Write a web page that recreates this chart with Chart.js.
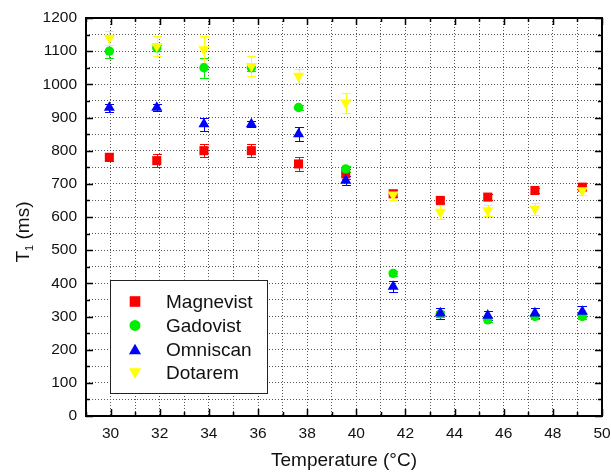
<!DOCTYPE html>
<html>
<head>
<meta charset="utf-8">
<script src="https://cdn.jsdelivr.net/npm/chart.js@4.4.1/dist/chart.umd.min.js"></script>
<style>
html,body{margin:0;padding:0;background:#fff;}
canvas{display:block;}
</style>
</head>
<body>
<canvas id="c" width="611" height="472"></canvas>
<script>
// ---- data ----
const temperatures = [29.95, 31.88, 33.8, 35.73, 37.65, 39.57, 41.5, 43.42, 45.35, 47.27, 49.2];

const magnevistT1  = [780, 770, 800, 800, 760, 730, 670, 650, 660, 680, 690];
const magnevistErr = [10, 20, 20, 20, 20, 15, 10, 8, 8, 8, 8];

const gadovistT1   = [1100, 1110, 1050, 1050, 930, 745, 430, 308, 290, 300, 300];
const gadovistErr  = [20, 10, 30, 10, 8, 8, 8, 8, 8, 8, 8];

const omniscanT1   = [930, 930, 880, 880, 850, 710, 390, 310, 303, 310, 315];
const omniscanErr  = [12, 10, 20, 10, 20, 15, 17, 17, 15, 15, 17];

const dotaremT1    = [1140, 1115, 1105, 1055, 1025, 945, 667, 615, 620, 625, 680];
const dotaremErr   = [20, 30, 40, 30, 20, 30, 17, 20, 17, 18, 15];

const seriesNames  = ['Magnevist', 'Gadovist', 'Omniscan', 'Dotarem'];
const xTickLabels  = [30, 32, 34, 36, 38, 40, 42, 44, 46, 48, 50];
const yTickLabels  = [0, 100, 200, 300, 400, 500, 600, 700, 800, 900, 1000, 1100, 1200];

const xTitle = 'Temperature (°C)';
const yTitleMain = 'T';
const yTitleSub = '1';
const yTitleUnit = ' (ms)';

// ---- styling ----
const FONT = '"Liberation Sans", Arial, Helvetica, sans-serif';
const colors = ['#ff0000', '#00ee00', '#0000ff', '#ffff00'];
const styles = ['rect', 'circle', 'triangle', 'triangle'];
const rotations = [0, 0, 0, 180];
const radii = [6.4, 4.7, 6.4, 6.4];

function toPoints(vals) { return temperatures.map((t, i) => ({x: t, y: vals[i]})); }

const allVals = [magnevistT1, gadovistT1, omniscanT1, dotaremT1];
const allErrs = [magnevistErr, gadovistErr, omniscanErr, dotaremErr];

const datasets = seriesNames.map((name, i) => ({
  label: name,
  data: toPoints(allVals[i]),
  errors: allErrs[i],
  showLine: false,
  pointStyle: styles[i],
  rotation: rotations[i],
  pointRadius: radii[i],
  pointHoverRadius: radii[i],
  pointBorderWidth: 0,
  backgroundColor: colors[i],
  borderColor: colors[i],
  order: seriesNames.length - i
}));

// error bars drawn through the scales
const errorBars = {
  id: 'errorBars',
  beforeDatasetsDraw(chart) {
    const {ctx, scales: {x, y}} = chart;
    chart.data.datasets.forEach((ds) => {
      ctx.save();
      ctx.strokeStyle = ds.borderColor;
      ctx.lineWidth = 1;
      ds.data.forEach((pt, j) => {
        const e = ds.errors[j];
        const px = Math.round(x.getPixelForValue(pt.x)) + 0.5;
        const top = Math.round(y.getPixelForValue(pt.y + e)) + 0.5;
        const bot = Math.round(y.getPixelForValue(pt.y - e)) + 0.5;
        ctx.beginPath();
        ctx.moveTo(px, top); ctx.lineTo(px, bot);
        ctx.moveTo(px - 4.5, top); ctx.lineTo(px + 4.5, top);
        ctx.moveTo(px - 4.5, bot); ctx.lineTo(px + 4.5, bot);
        ctx.stroke();
      });
      ctx.restore();
    });
  }
};

function drawMarker(ctx, style, rot, r, x, y, color) {
  ctx.save();
  ctx.fillStyle = color;
  ctx.beginPath();
  if (style === 'rect') {
    const s = r * Math.SQRT1_2;
    ctx.rect(x - s, y - s, 2 * s, 2 * s);
  } else if (style === 'circle') {
    ctx.arc(x, y, r, 0, Math.PI * 2);
  } else {
    let a = rot * Math.PI / 180;
    ctx.moveTo(x + Math.sin(a) * r, y - Math.cos(a) * r);
    a += 2 * Math.PI / 3;
    ctx.lineTo(x + Math.sin(a) * r, y - Math.cos(a) * r);
    a += 2 * Math.PI / 3;
    ctx.lineTo(x + Math.sin(a) * r, y - Math.cos(a) * r);
    ctx.closePath();
  }
  ctx.fill();
  ctx.restore();
}

// frame, inward ticks, y title and legend
const decorations = {
  id: 'decorations',
  afterDraw(chart) {
    const {ctx, chartArea: ca, scales: {x, y}} = chart;
    ctx.save();
    // ticks
    ctx.strokeStyle = '#000';
    ctx.lineWidth = 1.5;
    ctx.beginPath();
    for (let v = x.min; v <= x.max; v += 1) {
      const px = Math.round(x.getPixelForValue(v)) + 0.5;
      const len = (v % 2 === 0) ? 7 : 4;
      ctx.moveTo(px, ca.bottom); ctx.lineTo(px, ca.bottom - len);
      ctx.moveTo(px, ca.top); ctx.lineTo(px, ca.top + len);
    }
    for (let v = y.min; v <= y.max; v += 50) {
      const py = Math.round(y.getPixelForValue(v)) + 0.5;
      const len = (v % 100 === 0) ? 7 : 4;
      ctx.moveTo(ca.left, py); ctx.lineTo(ca.left + len, py);
      ctx.moveTo(ca.right, py); ctx.lineTo(ca.right - len, py);
    }
    ctx.stroke();
    // frame
    ctx.lineWidth = 2;
    ctx.strokeRect(ca.left, ca.top, ca.right - ca.left, ca.bottom - ca.top);

    // y title with subscript
    ctx.fillStyle = '#111';
    ctx.textBaseline = 'alphabetic';
    ctx.translate(28.5, (ca.top + ca.bottom) / 2 + 15);
    ctx.rotate(-Math.PI / 2);
    ctx.font = '19px ' + FONT;
    const wT = ctx.measureText(yTitleMain).width;
    const wU = ctx.measureText(yTitleUnit).width;
    ctx.font = '11px ' + FONT;
    const wS = ctx.measureText(yTitleSub).width;
    let sx = -(wT + wS + wU) / 2;
    ctx.font = '19px ' + FONT;
    ctx.fillText(yTitleMain, sx, 0); sx += wT;
    ctx.font = '11px ' + FONT;
    ctx.fillText(yTitleSub, sx, 4.5); sx += wS;
    ctx.font = '19px ' + FONT;
    ctx.fillText(yTitleUnit, sx, 0);
    ctx.restore();

    // legend
    ctx.save();
    const lx = ca.left + 24, ly = ca.top + 261.5, lw = 157, lh = 113;
    ctx.fillStyle = '#fff';
    ctx.fillRect(lx, ly, lw, lh);
    ctx.strokeStyle = '#222';
    ctx.lineWidth = 1;
    ctx.strokeRect(Math.round(lx) + 0.5, Math.round(ly) + 0.5, lw, lh);
    ctx.font = '19px ' + FONT;
    ctx.textBaseline = 'middle';
    ctx.textAlign = 'left';
    const legendR = [7.5, 5.5, 7, 7];
    chart.data.datasets.forEach((ds, i) => {
      const ry = ly + 22 + i * 23.9;
      drawMarker(ctx, styles[i], rotations[i], legendR[i], lx + 25, ry + (styles[i] === 'triangle' ? (rotations[i] ? -1.5 : 1.5) : 0), colors[i]);
      ctx.fillStyle = '#111';
      ctx.fillText(ds.label, lx + 56, ry + 1);
    });
    ctx.restore();
  }
};

new Chart(document.getElementById('c'), {
  type: 'scatter',
  data: { datasets },
  options: {
    responsive: false,
    devicePixelRatio: 1,
    animation: false,
    events: [],
    layout: { padding: { left: 0, top: 18, right: 9, bottom: 0 } },
    plugins: {
      legend: { display: false },
      tooltip: { enabled: false },
      title: { display: false }
    },
    scales: {
      x: {
        type: 'linear',
        min: 29, max: 50,
        afterFit(scale) { scale.height = 56; scale.paddingLeft = 0; scale.paddingRight = 0; },
        ticks: {
          stepSize: 1,
          autoSkip: false,
          maxRotation: 0,
          padding: 8,
          color: '#111',
          font: { family: FONT, size: 15.5 },
          callback: (v) => xTickLabels.includes(v) ? String(v) : ''
        },
        grid: { drawTicks: false, color: '#555', lineWidth: 1 },
        border: { display: false, dash: [1, 2] },
        title: {
          display: true,
          text: xTitle,
          color: '#111',
          font: { family: FONT, size: 19, lineHeight: 1 },
          padding: { top: 0, bottom: 1.5 }
        }
      },
      y: {
        type: 'linear',
        min: 0, max: 1200,
        afterFit(scale) { scale.width = 86; scale.paddingTop = 0; scale.paddingBottom = 0; },
        ticks: {
          stepSize: 50,
          autoSkip: false,
          padding: 9,
          color: '#111',
          font: { family: FONT, size: 15.5 },
          callback: (v) => yTickLabels.includes(v) ? String(v) : ''
        },
        grid: { drawTicks: false, color: '#555', lineWidth: 1 },
        border: { display: false, dash: [1, 2] }
      }
    }
  },
  plugins: [errorBars, decorations]
});
</script>
</body>
</html>
